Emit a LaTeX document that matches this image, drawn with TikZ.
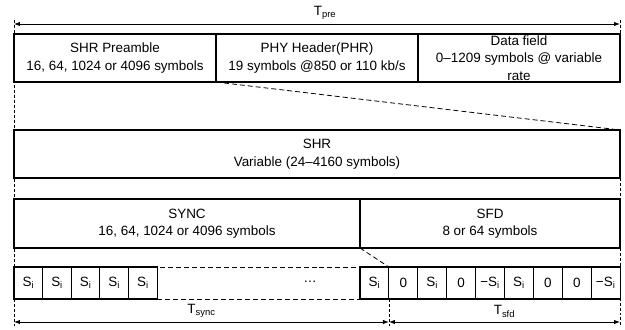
\documentclass[tikz,border=0pt]{standalone}
\usepackage{fontspec}
\setmainfont{Liberation Sans}
\usetikzlibrary{positioning,arrows.meta}

\tikzset{
  frame/.style={draw, line width=1.1pt, fill=white, inner sep=0pt, outer sep=0pt,
                align=center, minimum height=48bp, font=\fontsize{13.5}{17.5}\selectfont},
  cell/.style={draw, line width=1.1pt, fill=white, inner sep=0pt, outer sep=0pt,
               anchor=north west, minimum width=28.9bp, minimum height=32bp,
               font=\fontsize{13.5}{16}\selectfont},
  guide/.style={line width=0.8pt, dash pattern=on 3pt off 2pt},
  span/.style={{Latex[length=6pt,width=4.5pt]}-{Latex[length=6pt,width=4.5pt]}, line width=0.9pt},
  tlabel/.style={font=\fontsize{13.5}{16}\selectfont}
}

\begin{document}
\begin{tikzpicture}[x=1bp,y=-1bp]
\useasboundingbox (0,0) rectangle (625,329);

% dashed guide lines at both ends
\draw[guide] (14,20) -- (14,326);
\draw[guide] (620,20) -- (620,34);
\draw[guide] (620,178) -- (620,326);

% frame
\node[frame, anchor=north west, minimum width=202bp] (pre) at (14,34) {SHR Preamble\\16, 64, 1024 or 4096 symbols};
\node[frame, minimum width=202bp, right=0pt of pre] (phr) {PHY Header(PHR)\\19 symbols @850 or 110 kb/s};
\node[frame, minimum width=202bp, right=0pt of phr] (data) {Data field\\0–1209 symbols @ variable\\rate};

\node[frame, anchor=north west, minimum width=606bp] (shr) at (14,130) {SHR\\Variable (24–4160 symbols)};

\node[frame, anchor=north west, minimum width=346bp, minimum height=49bp] (sync) at (14,199) {SYNC\\16, 64, 1024 or 4096 symbols};
\node[frame, minimum width=260bp, minimum height=49bp, right=0pt of sync] (sfd) {SFD\\8 or 64 symbols};

% symbols
\node[draw, dashed, dash pattern=on 5pt off 3pt, line width=0.9pt, inner sep=0pt,
      anchor=north west, minimum width=203bp, minimum height=32bp] (gap) at (157,267) {};
\node[tlabel] (dots) at (310,282) {\dots};
\foreach \i in {0,...,4}
  \node[cell] (s\i) at ({14+28.6*\i},267) {S\textsubscript{i}};
\foreach \lab [count=\i] in {S\textsubscript{i}, 0, S\textsubscript{i}, 0, −S\textsubscript{i}, S\textsubscript{i}, 0, 0, −S\textsubscript{i}}
  \node[cell] (f\i) at ({360+28.9*(\i-1)},267) {\lab};

% zoom lines
\draw[guide, dash pattern=on 5pt off 3pt] (phr.south west) -- (shr.north east);
\draw[guide, dash pattern=on 5pt off 3pt] (sync.south east) -- (f1.north east);
\draw[guide] (f1.south east) -- ++(0,27);

% durations
\coordinate (pl) at (14,24);
\coordinate (pr) at (620,24);
\coordinate (bl) at (14,322);
\coordinate (bm) at (f1.south east |- bl);
\coordinate (br) at (620,322);
\draw[span] (pl) -- (pr) node[tlabel, midway, above=1bp, xshift=8bp] (tpre) {T\textsubscript{pre}};
\draw[span] (bl) -- (bm) node[tlabel, midway, above=1bp] (tsync) {T\textsubscript{sync}};
\draw[span] (bm) -- (br) node[tlabel, midway, above=1bp] (tsfd) {T\textsubscript{sfd}};
\end{tikzpicture}
\end{document}
